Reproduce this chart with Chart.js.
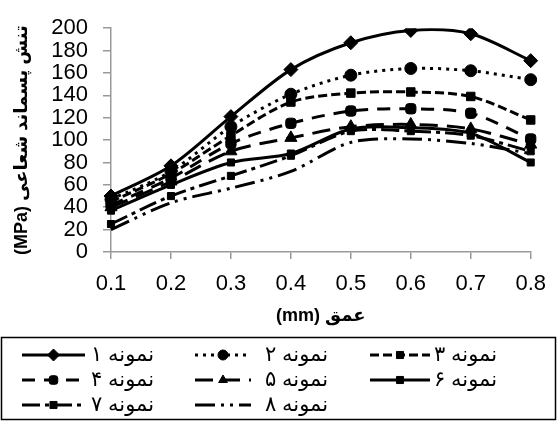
<!DOCTYPE html>
<html>
<head>
<meta charset="utf-8">
<script src="https://cdn.jsdelivr.net/npm/chart.js@4/dist/chart.umd.min.js"></script>
<style>
  html, body { margin: 0; padding: 0; background: #fff; }
  #c { display: block; }
</style>
</head>
<body>
<canvas id="c" width="558" height="421"></canvas>
<script>
// Depth along the sample (mm)
const depths = ['0.1', '0.2', '0.3', '0.4', '0.5', '0.6', '0.7', '0.8'];

// Radial residual stress (MPa) for each sample
const sample1 = [50, 77, 121, 163, 187, 198, 195, 171];
const sample2 = [47, 72, 112, 141, 158, 164, 162, 154];
const sample3 = [45, 70, 104, 134, 142, 143, 139, 118];
const sample4 = [42, 66, 97, 115, 126, 128, 124, 101];
const sample5 = [40, 63, 90, 102, 112, 114, 110, 96];
const sample6 = [37, 60, 80, 88, 110, 111, 106, 80];
const sample7 = [25, 50, 68, 86, 108, 108, 104, 90];
const sample8 = [20, 44, 57, 72, 98, 101, 97, 88];

const sampleNames = ['نمونه ۱', 'نمونه ۲', 'نمونه ۳', 'نمونه ۴', 'نمونه ۵', 'نمونه ۶', 'نمونه ۷', 'نمونه ۸'];
const yTickValues = [0, 20, 40, 60, 80, 100, 120, 140, 160, 180, 200];

const xTitle = 'عمق (mm)';
const yTitle = 'تنش پسماند شعاعی (MPa)';

const FONT = 'Arial, "Liberation Sans", "DejaVu Sans", sans-serif';
const rtl = s => '\u202B' + s + '\u202C';

const styles = [
  { dash: [],                     point: 'rectRot',     r: 7, lr: 6 },
  { dash: [3, 5],                 point: 'circle',      r: 6, lr: 5 },
  { dash: [9, 4],                 point: 'rect',        r: 6, lr: 5 },
  { dash: [13, 9],                point: 'rectRounded', r: 6, lr: 5 },
  { dash: [18, 9],                point: 'triangle',    r: 7, lr: 5 },
  { dash: [],                     point: 'rect',        r: 5, lr: 5 },
  { dash: [18, 5, 4, 5],          point: 'rect',        r: 5, lr: 5 },
  { dash: [20, 6, 3, 6, 3, 6],    point: 'circle',      r: 0, lr: 0 }
];

const seriesData = [sample1, sample2, sample3, sample4, sample5, sample6, sample7, sample8];

const datasets = seriesData.map((d, i) => ({
  label: sampleNames[i],
  data: d,
  borderColor: '#000',
  backgroundColor: '#000',
  borderWidth: 3,
  borderDash: styles[i].dash,
  tension: 0.3,
  fill: false,
  pointStyle: styles[i].point,
  pointRadius: styles[i].r,
  pointBorderWidth: 1,
  pointBackgroundColor: '#000',
  pointBorderColor: '#000',
  legendRadius: styles[i].lr
}));

// Boxed three-column legend drawn under the plot
const boxedLegend = {
  id: 'boxedLegend',
  afterDraw(chart) {
    const ctx = chart.ctx;
    ctx.save();
    ctx.setLineDash([]);
    ctx.strokeStyle = '#000';
    ctx.lineWidth = 1.5;
    ctx.strokeRect(1.5, 337.5, 554, 82);

    const lineX = [22, 195, 370];
    const lineW = [63, 56, 60];
    const textX = [91, 265, 434];
    const rowY = [355, 380, 405];
    chart.data.datasets.forEach((ds, i) => {
      const col = i % 3, row = Math.floor(i / 3);
      const x0 = lineX[col], x1 = lineX[col] + lineW[col], y = rowY[row];
      ctx.strokeStyle = '#000';
      ctx.lineWidth = ds.borderWidth;
      ctx.setLineDash(ds.borderDash);
      ctx.beginPath();
      ctx.moveTo(x0, y);
      ctx.lineTo(x1, y);
      ctx.stroke();
      if (ds.legendRadius > 0) {
        ctx.setLineDash([]);
        ctx.fillStyle = '#000';
        ctx.lineWidth = 1;
        Chart.helpers.drawPoint(ctx, { pointStyle: ds.pointStyle, radius: ds.legendRadius, rotation: 0, borderWidth: 1 }, (x0 + x1) / 2, y);
      }
      ctx.setLineDash([]);
      ctx.fillStyle = '#000';
      ctx.font = '21px ' + FONT;
      ctx.textAlign = 'left';
      ctx.textBaseline = 'middle';
      ctx.fillText(rtl(ds.label), textX[col], y);
    });
    ctx.restore();
  }
};

new Chart(document.getElementById('c'), {
  type: 'line',
  data: { labels: depths, datasets },
  options: {
    responsive: false,
    animation: false,
    devicePixelRatio: 1,
    layout: { padding: { left: 0, right: 21, top: 20, bottom: 84 } },
    plugins: { legend: { display: false }, tooltip: { enabled: false } },
    scales: {
      x: {
        type: 'category',
        offset: false,
        afterFit(s) { s.height = 85; },
        grid: { drawOnChartArea: false, drawTicks: true, tickLength: 7, color: '#999', lineWidth: 1.5 },
        border: { display: true, color: '#999', width: 1.5 },
        ticks: { color: '#000', font: { family: FONT, size: 22 }, padding: 12, maxRotation: 0 },
        title: { display: true, text: rtl(xTitle), color: '#000', font: { family: FONT, size: 18, weight: 'bold' }, padding: { top: 0, bottom: 10 } }
      },
      y: {
        min: 0,
        max: 200,
        afterFit(s) { s.width = 111; },
        afterBuildTicks(s) { s.ticks = yTickValues.map(v => ({ value: v })); },
        grid: { drawOnChartArea: false, drawTicks: true, tickLength: 8, color: '#999', lineWidth: 1.5 },
        border: { display: true, color: '#999', width: 1.5 },
        ticks: { color: '#000', font: { family: FONT, size: 22 }, padding: 15, autoSkip: false },
        title: { display: true, text: rtl(yTitle), color: '#000', font: { family: FONT, size: 18, weight: 'bold' }, padding: { top: 11, bottom: 0 } }
      }
    }
  },
  plugins: [boxedLegend]
});
</script>
</body>
</html>
